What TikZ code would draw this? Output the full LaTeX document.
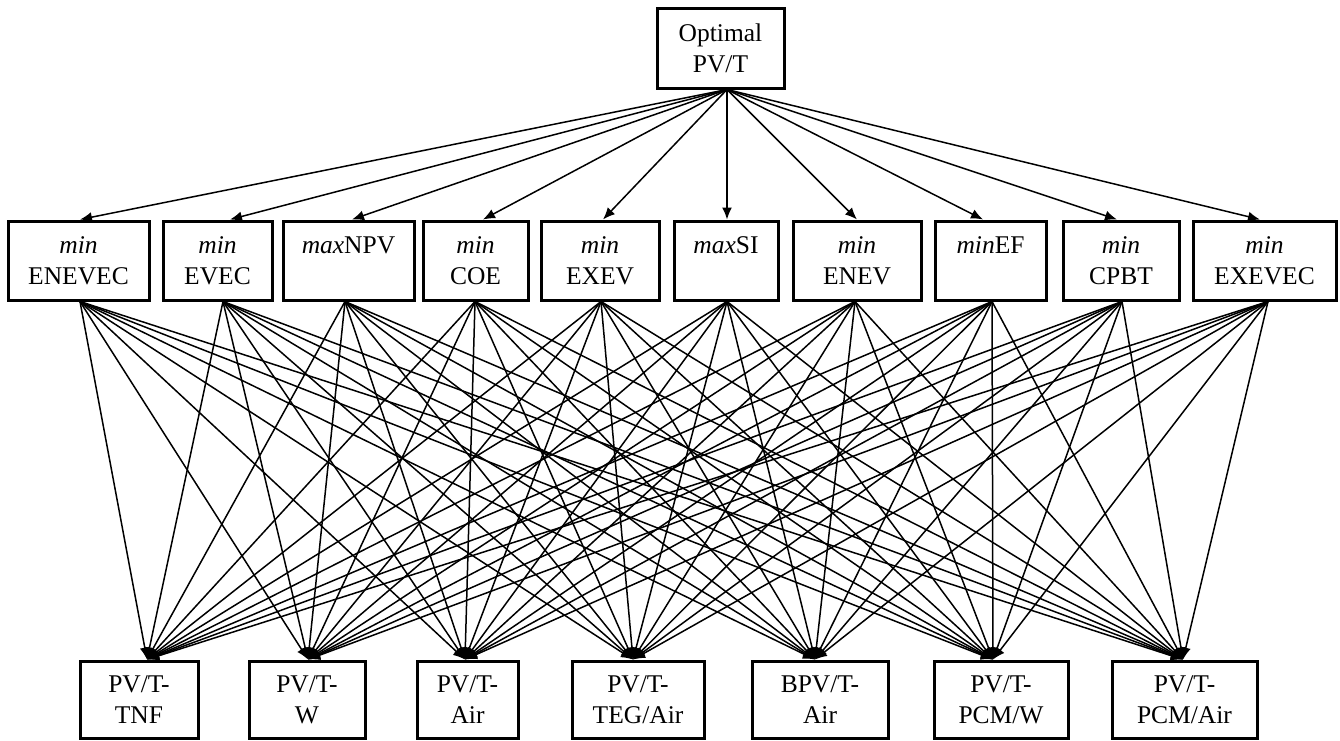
\documentclass[tikz,border=0pt]{standalone}
\usepackage{fontspec}
\setmainfont{Liberation Serif}
\usetikzlibrary{arrows.meta}
\begin{document}
\begin{tikzpicture}[x=1pt,y=-1pt,
  box/.style={draw=black, line width=3pt, inner sep=0pt, align=center,
    font=\fontsize{25.5}{31}\selectfont},
  arr/.style={line width=1.5pt, -{Latex[length=12pt,width=10pt]}}]
\useasboundingbox (0,0) rectangle (1340,740);
% top node
\node[box, minimum width=127pt, minimum height=80pt] (top) at (720.5,48) {Optimal\\PV/T};
\coordinate (topout) at ([xshift=6.5pt]top.south);
% middle nodes
\foreach \i/\x/\w/\din/\dout/\t in {
  1/78.5/141/1.5/1.5/{\textit{min}\\ENEVEC},
  2/217.5/109/12.5/5.5/{\textit{min}\\EVEC},
  3/348.5/131/3.5/-3.5/{\textit{max}NPV\\~},
  4/475.5/105/7.5/-0.5/{\textit{min}\\COE},
  5/600/118/3/1/{\textit{min}\\EXEV},
  6/726/104/1/1/{\textit{max}SI\\~},
  7/857/128/0/-2/{\textit{min}\\ENEV},
  8/990.5/111/-7.5/1.5/{\textit{min}EF\\~},
  9/1121/116/-4/1/{\textit{min}\\CPBT},
  10/1264.5/143/-4.5/3.5/{\textit{min}\\EXEVEC}}{
  \node[box, minimum width=\w pt, minimum height=79pt] (m\i) at (\x,260.5) {\t};
  \coordinate (m\i in) at ([xshift=\din pt]m\i.north);
  \coordinate (m\i out) at ([xshift=\dout pt]m\i.south);
}
% bottom nodes
\foreach \j/\x/\w/\din/\t in {
  1/139/118/8/{PV/T-\\TNF},
  2/307/116/1/{PV/T-\\W},
  3/467.5/101/-2.5/{PV/T-\\Air},
  4/638/132/-5/{PV/T-\\TEG/Air},
  5/820/136/-5/{BPV/T-\\Air},
  6/1001/134/-8/{PV/T-\\PCM/W},
  7/1184.5/145/-1.5/{PV/T-\\PCM/Air}}{
  \node[box, minimum width=\w pt, minimum height=77pt] (b\j) at (\x,699.5) {\t};
  \coordinate (b\j in) at ([xshift=\din pt]b\j.north);
}
% connectors
\foreach \i in {1,...,10}{
  \draw[arr] (topout) -- (m\i in);
}
\foreach \i in {1,...,10}{
  \foreach \j in {1,...,7}{
    \draw[arr] (m\i out) -- (b\j in);
  }
}
\end{tikzpicture}
\end{document}
